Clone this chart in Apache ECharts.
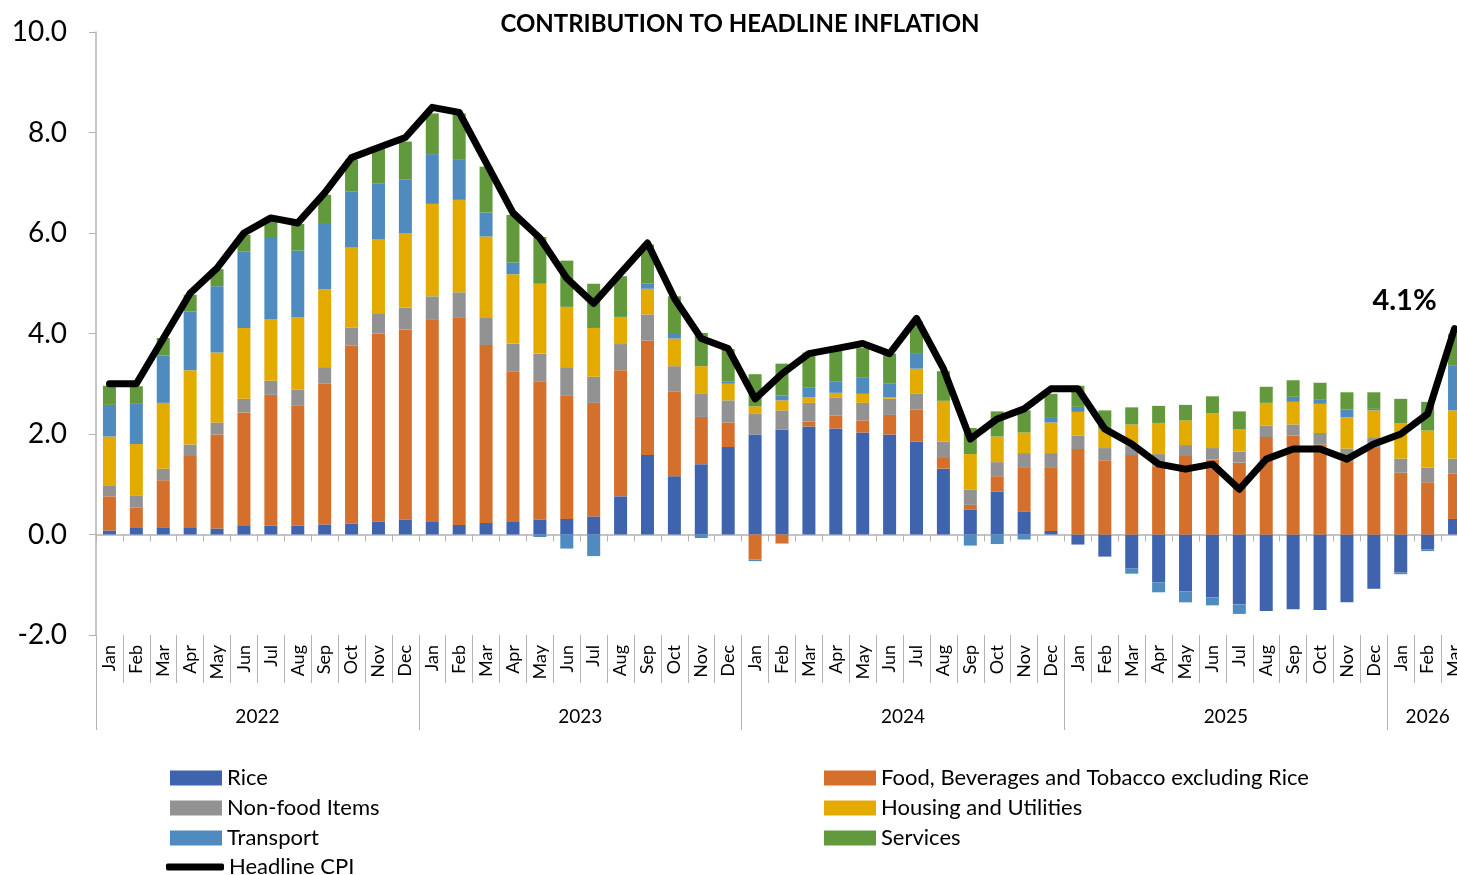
<!DOCTYPE html>
<html>
<head>
<meta charset="utf-8">
<title>Contribution to Headline Inflation</title>
<script src="https://cdn.jsdelivr.net/npm/echarts@6/dist/echarts.min.js"></script>
<style>
  html, body { margin: 0; padding: 0; background: #fff; overflow: hidden; }
  #chart { width: 1468px; height: 875px; }
</style>
</head>
<body>
<div id="chart"></div>
<script>
// tick labels
var monthNames = ['Jan', 'Feb', 'Mar', 'Apr', 'May', 'Jun', 'Jul', 'Aug', 'Sep', 'Oct', 'Nov', 'Dec'];
var years = ['2022', '2023', '2024', '2025', '2026'];
var yearMonths = [12, 12, 12, 12, 3];

// contributions, percentage points (Jan 2022 .. Mar 2026)
var rice = [
  0.08, 0.13, 0.13, 0.13, 0.12, 0.17, 0.18, 0.18, 0.20, 0.22, 0.26, 0.30,
  0.25, 0.19, 0.23, 0.25, 0.30, 0.31, 0.36, 0.76, 1.58, 1.16, 1.40, 1.74,
  1.99, 2.09, 2.15, 2.11, 2.03, 1.99, 1.85, 1.31, 0.50, 0.85, 0.45, 0.07,
  -0.20, -0.44, -0.68, -0.95, -1.13, -1.25, -1.39, -1.52, -1.49, -1.50, -1.35, -1.08,
  -0.76, -0.30, 0.31
];
var food = [
  0.68, 0.41, 0.95, 1.43, 1.87, 2.26, 2.60, 2.39, 2.80, 3.54, 3.74, 3.78,
  4.02, 4.12, 3.54, 3.00, 2.75, 2.46, 2.26, 2.51, 2.28, 1.68, 0.94, 0.49,
  -0.50, -0.18, 0.10, 0.26, 0.24, 0.39, 0.64, 0.23, 0.09, 0.31, 0.89, 1.27,
  1.70, 1.48, 1.58, 1.36, 1.56, 1.49, 1.43, 1.94, 1.97, 1.79, 1.46, 1.72,
  1.23, 1.04, 0.90
];
var nonFood = [
  0.22, 0.24, 0.23, 0.23, 0.24, 0.27, 0.28, 0.31, 0.33, 0.36, 0.39, 0.43,
  0.47, 0.51, 0.54, 0.55, 0.55, 0.56, 0.52, 0.52, 0.52, 0.51, 0.47, 0.44,
  0.41, 0.38, 0.37, 0.36, 0.35, 0.32, 0.31, 0.31, 0.30, 0.28, 0.28, 0.28,
  0.27, 0.24, 0.18, 0.24, 0.22, 0.23, 0.22, 0.23, 0.22, 0.23, 0.25, 0.20,
  0.28, 0.29, 0.30
];
var housing = [
  0.97, 1.02, 1.31, 1.48, 1.39, 1.41, 1.23, 1.45, 1.55, 1.59, 1.48, 1.49,
  1.84, 1.84, 1.62, 1.38, 1.39, 1.20, 0.97, 0.54, 0.51, 0.55, 0.54, 0.33,
  0.15, 0.20, 0.11, 0.09, 0.18, 0.03, 0.50, 0.81, 0.71, 0.51, 0.41, 0.61,
  0.47, 0.37, 0.43, 0.62, 0.49, 0.69, 0.45, 0.45, 0.45, 0.58, 0.62, 0.55,
  0.70, 0.74, 0.96
];
var transport = [
  0.63, 0.80, 0.94, 1.17, 1.32, 1.52, 1.63, 1.32, 1.32, 1.12, 1.11, 1.06,
  0.99, 0.81, 0.48, 0.23, -0.05, -0.28, -0.43, 0.00, 0.11, 0.09, -0.07, 0.04,
  -0.03, 0.10, 0.19, 0.23, 0.33, 0.27, 0.31, 0.00, -0.22, -0.19, -0.10, 0.09,
  0.10, 0.00, -0.10, -0.20, -0.22, -0.16, -0.19, 0.00, 0.10, 0.08, 0.16, 0.03,
  -0.03, -0.03, 0.90
];
var services = [
  0.38, 0.35, 0.35, 0.33, 0.34, 0.33, 0.38, 0.53, 0.56, 0.63, 0.71, 0.76,
  0.81, 0.91, 0.91, 0.95, 0.93, 0.92, 0.88, 0.81, 0.77, 0.75, 0.66, 0.65,
  0.64, 0.63, 0.70, 0.63, 0.58, 0.60, 0.63, 0.59, 0.52, 0.50, 0.44, 0.48,
  0.42, 0.38, 0.34, 0.34, 0.31, 0.34, 0.35, 0.32, 0.33, 0.34, 0.34, 0.33,
  0.49, 0.57, 0.62
];
var headline = [
  3.0, 3.0, 3.9, 4.8, 5.3, 6.0, 6.3, 6.2, 6.8, 7.5, 7.7, 7.9,
  8.5, 8.4, 7.4, 6.4, 5.9, 5.1, 4.6, 5.2, 5.8, 4.7, 3.9, 3.7,
  2.7, 3.2, 3.6, 3.7, 3.8, 3.6, 4.3, 3.3, 1.9, 2.3, 2.5, 2.9,
  2.9, 2.1, 1.8, 1.4, 1.3, 1.4, 0.9, 1.5, 1.7, 1.7, 1.5, 1.8,
  2.0, 2.4, 4.1
];

var categories = [];
var yearStarts = [];
var yearMids = [];
var pos = 0;
years.forEach(function (y, i) {
  yearStarts.push(pos);
  yearMids.push(pos + yearMonths[i] / 2);
  for (var m = 0; m < yearMonths[i]; m++) categories.push(y + '-' + monthNames[m]);
  pos += yearMonths[i];
});

var FONT = 'Lato';
var GRAY = '#b3b3b3';

function barSeries(name, data, color) {
  return {
    name: name,
    type: 'bar',
    stack: 'total',
    barWidth: 13,
    data: data,
    itemStyle: { color: color },
    emphasis: { disabled: true }
  };
}

var lineData = headline.map(function (v, i) {
  if (i === headline.length - 1) {
    return {
      value: v,
      label: {
        show: true,
        position: 'top',
        offset: [-50, -8],
        formatter: '{c}%',
        fontFamily: FONT,
        fontWeight: 'bold',
        fontSize: 29,
        color: '#000'
      }
    };
  }
  return v;
});

var legendText = { fontFamily: FONT, fontSize: 22, color: '#000' };

var chart = echarts.init(document.getElementById('chart'));
chart.setOption({
  animation: false,
  textStyle: { fontFamily: FONT },
  title: {
    text: 'CONTRIBUTION TO HEADLINE INFLATION',
    left: 735,
    textAlign: 'center',
    top: 7,
    textStyle: { fontFamily: FONT, fontWeight: 'bold', fontSize: 24, color: '#000' }
  },
  grid: { left: 96, right: 0, top: 32, bottom: 240 },
  legend: [
    {
      left: 170, top: 767, padding: 0, orient: 'vertical', itemWidth: 52, itemHeight: 15, itemGap: 8,
      icon: 'rect',
      textStyle: legendText,
      data: ['Rice', 'Non-food Items', 'Transport']
    },
    {
      left: 824, top: 767, padding: 0, orient: 'vertical', itemWidth: 52, itemHeight: 15, itemGap: 8,
      icon: 'rect',
      textStyle: legendText,
      data: ['Food, Beverages and Tobacco excluding Rice', 'Housing and Utilities', 'Services']
    },
    {
      left: 166, top: 856, padding: 0, itemWidth: 58, itemHeight: 7,
      icon: 'roundRect',
      textStyle: legendText,
      data: ['Headline CPI']
    }
  ],
  xAxis: [
    {
      type: 'category',
      data: categories,
      axisLine: { onZero: true, lineStyle: { color: GRAY, width: 1.5 } },
      axisTick: { show: true, interval: 0, length: 7, lineStyle: { color: GRAY } },
      axisLabel: { show: false },
      splitLine: { show: false }
    },
    {
      type: 'category',
      data: categories,
      position: 'bottom',
      axisLine: { show: false, onZero: false },
      axisTick: { show: true, interval: 0, length: 48, lineStyle: { color: GRAY } },
      axisLabel: {
        interval: 0,
        rotate: 90,
        margin: 10,
        fontFamily: FONT,
        fontSize: 18,
        color: '#000',
        formatter: function (v) { return v.split('-')[1]; }
      },
      splitLine: { show: false }
    },
    {
      type: 'value',
      min: 0,
      max: categories.length,
      position: 'bottom',
      axisLine: { show: false, onZero: false },
      axisTick: { show: true, customValues: yearStarts, length: 95, lineStyle: { color: GRAY } },
      axisLabel: {
        customValues: yearMids,
        margin: 72,
        fontFamily: FONT,
        fontSize: 19,
        color: '#000',
        formatter: function (v) { return years[yearMids.indexOf(v)]; }
      },
      splitLine: { show: false }
    }
  ],
  yAxis: {
    type: 'value',
    min: -2,
    max: 10,
    interval: 2,
    axisLine: { show: true, lineStyle: { color: GRAY, width: 1.5 } },
    axisTick: { show: true, length: 7, lineStyle: { color: GRAY } },
    axisLabel: {
      fontFamily: FONT,
      fontSize: 28,
      color: '#000',
      margin: 29,
      formatter: function (v) { return v.toFixed(1); }
    },
    splitLine: { show: false }
  },
  series: [
    barSeries('Rice', rice, '#3f63ad'),
    barSeries('Food, Beverages and Tobacco excluding Rice', food, '#d5702c'),
    barSeries('Non-food Items', nonFood, '#929292'),
    barSeries('Housing and Utilities', housing, '#e3ab00'),
    barSeries('Transport', transport, '#4f8bbf'),
    barSeries('Services', services, '#63993d'),
    {
      name: 'Headline CPI',
      type: 'line',
      data: lineData,
      symbol: 'circle',
      symbolSize: 1,
      showSymbol: true,
      clip: false,
      z: 10,
      lineStyle: { color: '#000', width: 7, join: 'round', cap: 'round' },
      itemStyle: { color: '#000' },
      emphasis: { disabled: true }
    }
  ]
});
</script>
</body>
</html>
